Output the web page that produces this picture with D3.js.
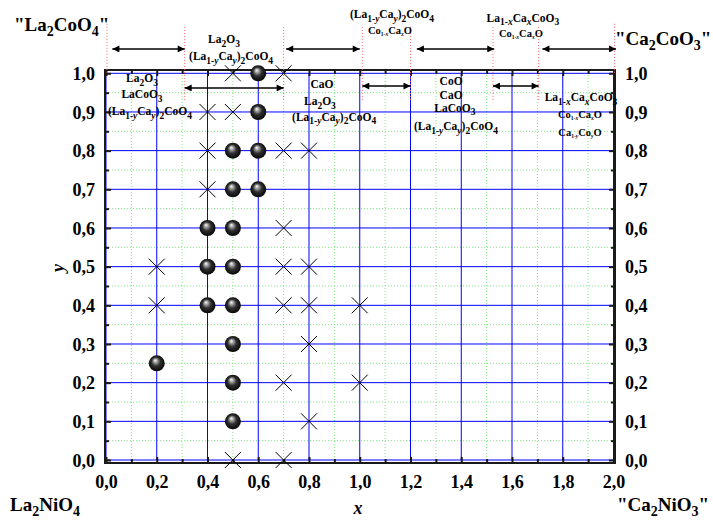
<!DOCTYPE html>
<html><head><meta charset="utf-8">
<script src="https://cdn.jsdelivr.net/npm/d3@7"></script>
<style>
html,body{margin:0;padding:0;background:#fff;}
text{font-family:"Liberation Serif","Times New Roman",Tinos,serif;font-weight:bold;fill:#000;}
</style></head>
<body>
<svg id="chart" width="713" height="522"></svg>
<script>
// ---- data ----
const xMajorTicks = [0,0.2,0.4,0.6,0.8,1.0,1.2,1.4,1.6,1.8,2.0];
const xMinorTicks = [0.1,0.3,0.5,0.7,0.9,1.1,1.3,1.5,1.7,1.9];
const yMajorTicks = [0,0.1,0.2,0.3,0.4,0.5,0.6,0.7,0.8,0.9,1.0];
const yMinorTicks = [0.05,0.15,0.25,0.35,0.45,0.55,0.65,0.75,0.85,0.95];

// single-phase samples (spheres)
const sphereX = [0.6,0.6,0.5,0.6,0.5,0.6,0.4,0.5,0.4,0.5,0.4,0.5,0.5,0.2,0.5,0.5];
const sphereY = [1.0,0.9,0.8,0.8,0.7,0.7,0.6,0.6,0.5,0.5,0.4,0.4,0.3,0.25,0.2,0.1];
// multi-phase samples (crosses)
const crossX = [0.5,0.7,0.4,0.5,0.4,0.7,0.8,0.4,0.7,0.2,0.7,0.8,0.2,0.7,0.8,1.0,0.8,0.7,1.0,0.8,0.5,0.7];
const crossY = [1.0,1.0,0.9,0.9,0.8,0.8,0.8,0.7,0.6,0.5,0.5,0.5,0.4,0.4,0.4,0.4,0.3,0.2,0.2,0.1,0.0,0.0];

// phase-region boundaries (x) and arrows
const boundaryX = [0.31,0.70,1.01,1.20,1.525,1.705];
const edgeX = [0,2.0];
const arrowFrom = [0.025,0.71,1.225,1.72, 0.31,1.01,1.525];
const arrowTo   = [0.31,1.0,1.53,2.01, 0.70,1.20,1.705];
const arrowY    = [1.063,1.063,1.063,1.063, 0.962,0.967,0.967];

// phase labels
const labelText = [
 "La_{2}O_{3}", "(La_{1-y}Ca_{y})_{2}CoO_{4}",
 "La_{2}O_{3}", "LaCoO_{3}", "(La_{1-y}Ca_{y})_{2}CoO_{4}",
 "CaO", "La_{2}O_{3}", "(La_{1-y}Ca_{y})_{2}CoO_{4}",
 "(La_{1-y}Ca_{y})_{2}CoO_{4}", "Co_{1-x}Ca_{x}O",
 "La_{1-x}Ca_{x}CoO_{3}", "Co_{1-x}Ca_{x}O",
 "CoO", "CaO", "LaCoO_{3}", "(La_{1-y}Ca_{y})_{2}CoO_{4}",
 "La_{1-x}Ca_{x}CoO_{3}", "Co_{1-x}Ca_{x}O", "Ca_{1-y}Co_{y}O"
];
const labelX = [0.465,0.493, 0.142,0.142,0.173, 0.851,0.843,0.899, 1.127,1.119, 1.643,1.635, 1.360,1.360,1.375,1.379, 1.872,1.868,1.868];
const labelY = [1.078,1.034, 0.9775,0.936,0.892, 0.962,0.918,0.877, 1.143,1.102, 1.133,1.094, 0.970,0.934,0.900,0.853, 0.928,0.884,0.838];
const labelTiny = [0,0, 0,0,0, 0,0,0, 0,1, 0,1, 0,0,0,0, 0,1,1];

const cornerText = ['"La_{2}CoO_{4}"','"Ca_{2}CoO_{3}"','La_{2}NiO_{4}','"Ca_{2}NiO_{3}"'];

// ---- drawing ----
const svg = d3.select("#chart");
const x = d3.scaleLinear().domain([0,2]).range([106,613.5]);
const y = d3.scaleLinear().domain([0,1]).range([460,73.3]);
const frame = {l:105, r:615, t:70, b:463};

const defs = svg.append("defs");
const grad = defs.append("radialGradient").attr("id","sph").attr("cx","50%").attr("cy","50%").attr("r","55%").attr("fx","40%").attr("fy","30%");
grad.append("stop").attr("offset","0%").attr("stop-color","#ffffff");
grad.append("stop").attr("offset","18%").attr("stop-color","#b0b0b0");
grad.append("stop").attr("offset","50%").attr("stop-color","#303030");
grad.append("stop").attr("offset","100%").attr("stop-color","#000000");
defs.append("marker").attr("id","ah").attr("viewBox","0 0 10 10").attr("refX",10).attr("refY",5)
  .attr("markerWidth",11).attr("markerHeight",7).attr("markerUnits","userSpaceOnUse")
  .attr("orient","auto-start-reverse")
  .append("path").attr("d","M0,0L10,5L0,10z").attr("fill","#000");

// rich text helper
function rich(t, str, subSize, subShift){
  const re = /_\{([^}]*)\}|[^_]+/g; let m, off = 0;
  while((m = re.exec(str))){
    if(m[1] !== undefined){
      const parts = m[1].match(/[xy]|[^xy]+/g);
      parts.forEach((p,i)=>{
        const ts = t.append("tspan").attr("font-size",subSize).text(p);
        if(i===0){ ts.attr("dy", subShift - off); off = subShift; }
        if(p==="x"||p==="y") ts.attr("font-style","italic");
      });
    } else {
      const ts = t.append("tspan").text(m[0]);
      if(off!==0){ ts.attr("dy", -off); off = 0; }
    }
  }
}

// minor grid (green dotted)
const grid = svg.append("g");
grid.selectAll(".gvx").data(xMinorTicks).join("line")
  .attr("x1",d=>x(d)).attr("x2",d=>x(d)).attr("y1",y(0)).attr("y2",y(1))
  .attr("stroke","#7ee87e").attr("stroke-width",1).attr("stroke-dasharray","1,2");
grid.selectAll(".gvy").data(yMinorTicks).join("line")
  .attr("y1",d=>y(d)).attr("y2",d=>y(d)).attr("x1",x(0)).attr("x2",x(2))
  .attr("stroke","#7ee87e").attr("stroke-width",1).attr("stroke-dasharray","1,2");
// major grid (blue)
grid.selectAll(".bx").data(xMajorTicks).join("line")
  .attr("x1",d=>x(d)).attr("x2",d=>x(d)).attr("y1",y(0)).attr("y2",y(1))
  .attr("stroke","#0000ff").attr("stroke-width",1);
grid.selectAll(".by").data(yMajorTicks).join("line")
  .attr("y1",d=>y(d)).attr("y2",d=>y(d)).attr("x1",x(0)).attr("x2",x(2))
  .attr("stroke","#0000ff").attr("stroke-width",1);

// frame
svg.append("rect").attr("x",frame.l).attr("y",frame.t).attr("width",frame.r-frame.l).attr("height",frame.b-frame.t)
  .attr("fill","none").attr("stroke","#1a1a1a").attr("stroke-width",2);

// axes
const fmt = d => d3.format(".1f")(d).replace(".",",");
function styleAxis(g){ g.attr("font-family",null).attr("font-size",null); g.select(".domain").remove(); g.selectAll(".tick line").attr("stroke","#1a1a1a").attr("stroke-width",2); g.selectAll("text").style("font-size","18px").attr("fill","#000"); }
const bx = svg.append("g").attr("transform",`translate(0,${frame.b})`).call(d3.axisBottom(x).tickValues(xMajorTicks).tickSize(-6).tickFormat(fmt));
styleAxis(bx); bx.selectAll("text").attr("y",25).attr("dy",null);
svg.append("g").attr("transform",`translate(0,${frame.b})`).call(d3.axisBottom(x).tickValues(xMinorTicks).tickSize(-4).tickFormat("")).call(styleAxis);
svg.append("g").attr("transform",`translate(0,${frame.t})`).call(d3.axisTop(x).tickValues(xMajorTicks).tickSize(-6).tickFormat("")).call(styleAxis);
svg.append("g").attr("transform",`translate(0,${frame.t})`).call(d3.axisTop(x).tickValues(xMinorTicks).tickSize(-4).tickFormat("")).call(styleAxis);
const ly = svg.append("g").attr("transform",`translate(${frame.l},0)`).call(d3.axisLeft(y).tickValues(yMajorTicks).tickSize(-6).tickFormat(fmt));
styleAxis(ly); ly.selectAll("text").attr("x",-10).attr("dy","0.35em");
svg.append("g").attr("transform",`translate(${frame.l},0)`).call(d3.axisLeft(y).tickValues(yMinorTicks).tickSize(-4).tickFormat("")).call(styleAxis);
const ry = svg.append("g").attr("transform",`translate(${frame.r},0)`).call(d3.axisRight(y).tickValues(yMajorTicks).tickSize(-6).tickFormat(fmt));
styleAxis(ry); ry.selectAll("text").attr("x",10).attr("dy","0.35em");
svg.append("g").attr("transform",`translate(${frame.r},0)`).call(d3.axisRight(y).tickValues(yMinorTicks).tickSize(-4).tickFormat("")).call(styleAxis);

// axis titles
svg.append("text").attr("x",358).attr("y",514).attr("text-anchor","middle").attr("font-size",18).attr("font-style","italic").text("x");
svg.append("text").attr("transform","translate(64,268) rotate(-90)").attr("text-anchor","middle").attr("font-size",18).attr("font-style","italic").text("y");

// boundary lines (red dotted)
const ann = svg.append("g");
ann.selectAll(".bl").data(boundaryX).join("line")
  .attr("x1",d=>x(d)).attr("x2",d=>x(d)).attr("y1",y(1.12)).attr("y2",y(0.93))
  .attr("stroke","#ff6060").attr("stroke-width",1).attr("stroke-dasharray","1,2");
ann.selectAll(".el").data(edgeX).join("line")
  .attr("x1",d=>x(d)+1).attr("x2",d=>x(d)+1).attr("y1",y(1.128)).attr("y2",y(1.0))
  .attr("stroke","#ff6060").attr("stroke-width",1).attr("stroke-dasharray","1,2");

// arrows
ann.selectAll(".ar").data(arrowFrom).join("line")
  .attr("x1",(d,i)=>x(d)).attr("x2",(d,i)=>x(arrowTo[i]))
  .attr("y1",(d,i)=>y(arrowY[i])).attr("y2",(d,i)=>y(arrowY[i]))
  .attr("stroke","#000").attr("stroke-width",1.5)
  .attr("marker-start","url(#ah)").attr("marker-end","url(#ah)");

// phase labels
labelText.forEach((s,i)=>{
  const tiny = labelTiny[i];
  const t = ann.append("text").attr("x",x(labelX[i])).attr("y",y(labelY[i]))
    .attr("text-anchor","middle").attr("font-size",tiny?10.5:11.5);
  rich(t, s, tiny?5.5:9.5, tiny?2:3.5);
});

// corner compound labels
const cornerX = [14,615,10,617];
const cornerY = [31,45,511,511];
cornerText.forEach((s,i)=>{
  const t = svg.append("text").attr("x",cornerX[i]).attr("y",cornerY[i]).attr("font-size",19);
  rich(t, s, 14, 4.5);
});

// crosses
const cs = 8;
svg.append("g").selectAll("path").data(crossX).join("path")
  .attr("d",(d,i)=>{const cx=x(d), cy=y(crossY[i]); return `M${cx-cs},${cy-cs}L${cx+cs},${cy+cs}M${cx-cs},${cy+cs}L${cx+cs},${cy-cs}`;})
  .attr("stroke","#000").attr("stroke-width",1).attr("fill","none");
// spheres
svg.append("g").selectAll("circle").data(sphereX).join("circle")
  .attr("cx",d=>x(d)).attr("cy",(d,i)=>y(sphereY[i])).attr("r",8)
  .attr("fill","url(#sph)");
</script>
</body></html>
